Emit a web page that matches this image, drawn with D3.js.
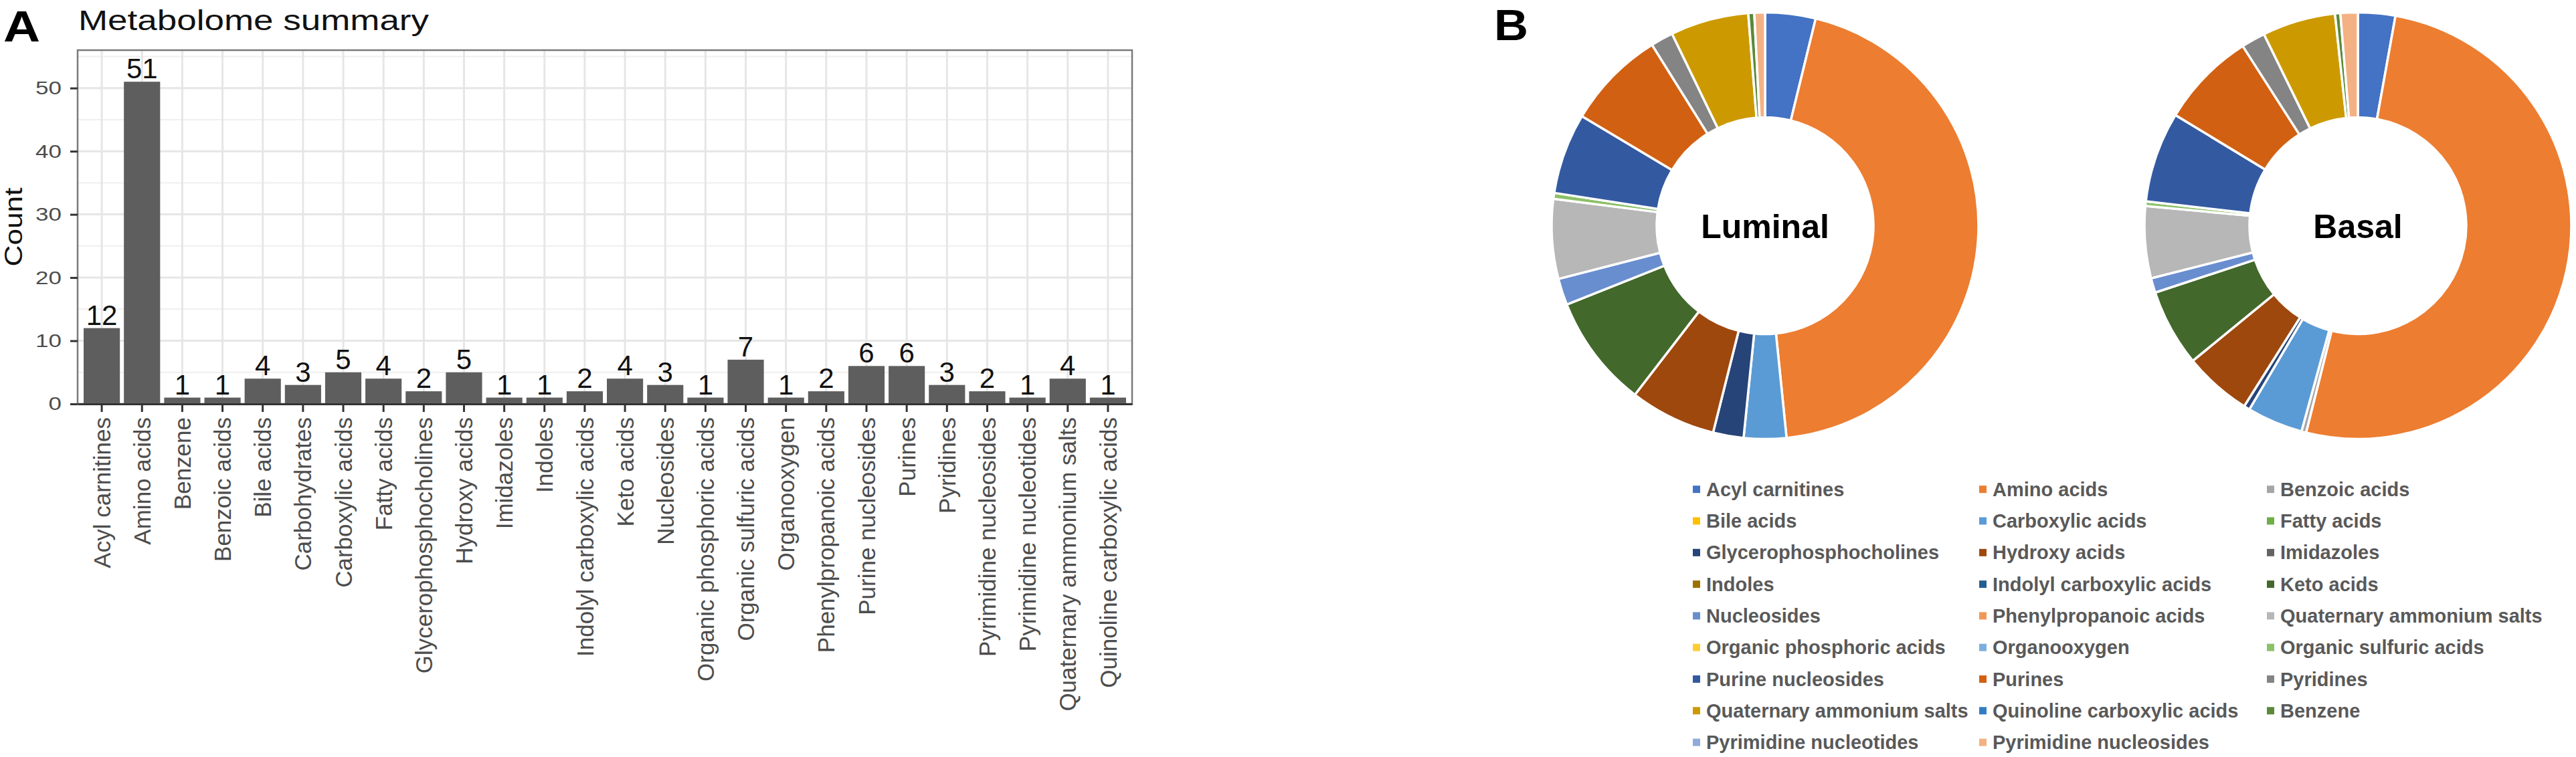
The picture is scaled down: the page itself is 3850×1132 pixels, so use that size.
<!DOCTYPE html>
<html>
<head>
<meta charset="utf-8">
<script src="https://cdn.jsdelivr.net/npm/d3@7"></script>
<style>
  body { margin: 0; background: #fff; }
  svg { display: block; }
  text { font-family: "Liberation Sans", Arial, sans-serif; }
</style>
</head>
<body>
<svg id="chart" width="3850" height="1132"></svg>
<script>
// ---------------- DATA ----------------
const barCategories = [
  "Acyl carnitines", "Amino acids", "Benzene", "Benzoic acids", "Bile acids",
  "Carbohydrates", "Carboxylic acids", "Fatty acids", "Glycerophosphocholines",
  "Hydroxy acids", "Imidazoles", "Indoles", "Indolyl carboxylic acids", "Keto acids",
  "Nucleosides", "Organic phosphoric acids", "Organic sulfuric acids", "Organooxygen",
  "Phenylpropanoic acids", "Purine nucleosides", "Purines", "Pyridines",
  "Pyrimidine nucleosides", "Pyrimidine nucleotides", "Quaternary ammonium salts",
  "Quinoline carboxylic acids"
];
const barCounts = [12, 51, 1, 1, 4, 3, 5, 4, 2, 5, 1, 1, 2, 4, 3, 1, 7, 1, 2, 6, 6, 3, 2, 1, 4, 1];
const yTicks = [0, 10, 20, 30, 40, 50];
const yMinorTicks = [5, 15, 25, 35, 45, 55];
const yMax = 56;

const donutCategories = [
  "Acyl carnitines", "Amino acids", "Benzoic acids",
  "Bile acids", "Carboxylic acids", "Fatty acids",
  "Glycerophosphocholines", "Hydroxy acids", "Imidazoles",
  "Indoles", "Indolyl carboxylic acids", "Keto acids",
  "Nucleosides", "Phenylpropanoic acids", "Quaternary ammonium salts",
  "Organic phosphoric acids", "Organooxygen", "Organic sulfuric acids",
  "Purine nucleosides", "Purines", "Pyridines",
  "Quaternary ammonium salts", "Quinoline carboxylic acids", "Benzene",
  "Pyrimidine nucleotides", "Pyrimidine nucleosides"
];
const donutColors = [
  "#4472C4", "#ED7D31", "#A5A5A5",
  "#FFC000", "#5B9BD5", "#70AD47",
  "#264478", "#9E480E", "#636363",
  "#997300", "#255E91", "#43682B",
  "#698ED0", "#F1975A", "#B7B7B7",
  "#FFCD33", "#7CAFDD", "#8CC168",
  "#335AA1", "#D26012", "#848484",
  "#CC9A00", "#327DC2", "#5A8A39",
  "#8FAADC", "#F4B183"
];
// approximate % shares read from the donuts (clockwise from 12 o'clock)
const luminalShare = [3.8, 44.4, 0, 0, 3.2, 0, 2.3, 6.5, 0, 0, 0, 8.5, 2.0, 0, 6.0, 0, 0, 0.45, 6.1, 7.5, 1.7, 5.9, 0, 0.45, 0, 0.8];
const basalShare   = [2.8, 50.7, 0.35, 0, 4.2, 0, 0.45, 5.1, 0, 0, 0, 5.8, 1.1, 0, 5.4, 0, 0, 0.35, 6.8, 7.2, 1.8, 5.5, 0, 0.4, 0, 1.3];
const donutTitles = ["Luminal", "Basal"];

// ---------------- SETUP ----------------
const svg = d3.select("#chart");

// ---------------- PANEL A ----------------
const pL = 116, pR = 1692, pT = 75, pB = 604;
const x = d3.scaleBand().domain(barCategories).range([pL, pR]).paddingInner(0.1).paddingOuter(0.15);
const y = d3.scaleLinear().domain([0, yMax]).range([pB, pT]);

const gA = svg.append("g");

// panel background & grid
gA.append("rect").attr("x", pL).attr("y", pT).attr("width", pR - pL).attr("height", pB - pT).attr("fill", "#fff");
gA.selectAll(".minor").data(yMinorTicks).join("line")
  .attr("x1", pL).attr("x2", pR).attr("y1", d => y(d)).attr("y2", d => y(d))
  .attr("stroke", "#efefef").attr("stroke-width", 2);
gA.selectAll(".major").data(yTicks).join("line")
  .attr("x1", pL).attr("x2", pR).attr("y1", d => y(d)).attr("y2", d => y(d))
  .attr("stroke", "#e6e6e6").attr("stroke-width", 3);
gA.selectAll(".vgrid").data(barCategories).join("line")
  .attr("x1", d => x(d) + x.bandwidth() / 2).attr("x2", d => x(d) + x.bandwidth() / 2)
  .attr("y1", pT).attr("y2", pB)
  .attr("stroke", "#e6e6e6").attr("stroke-width", 3);

// bars
gA.selectAll(".bar").data(barCounts).join("rect")
  .attr("x", (d, i) => x(barCategories[i]))
  .attr("width", x.bandwidth())
  .attr("y", d => y(d))
  .attr("height", d => y(0) - y(d))
  .attr("fill", "#5e5e5e");

// value labels
gA.selectAll(".val").data(barCounts).join("text")
  .attr("x", (d, i) => x(barCategories[i]) + x.bandwidth() / 2)
  .attr("y", d => y(d) - 5)
  .attr("text-anchor", "middle")
  .attr("font-size", 42)
  .attr("fill", "#111")
  .text(d => d);

// panel border
gA.append("rect").attr("x", pL).attr("y", pT).attr("width", pR - pL).attr("height", pB - pT)
  .attr("fill", "none").attr("stroke", "#7a7a7a").attr("stroke-width", 2.5);

// y axis
const yAxis = gA.append("g").attr("transform", `translate(${pL},0)`)
  .call(d3.axisLeft(y).tickValues(yTicks).tickSize(11).tickPadding(13).tickSizeOuter(0));
yAxis.select(".domain").remove();
yAxis.selectAll(".tick line").attr("stroke", "#333").attr("stroke-width", 3);
yAxis.selectAll(".tick text")
  .attr("font-size", 28)
  .attr("fill", "#4d4d4d")
  .attr("font-family", "Liberation Sans, Arial, sans-serif")
  .attr("x", -24 / 1.25)
  .attr("transform", "scale(1.25,1)");

// x axis
const xAxis = gA.append("g").attr("transform", `translate(0,${pB})`)
  .call(d3.axisBottom(x).tickSize(12).tickSizeOuter(0));
xAxis.select(".domain").attr("stroke", "#333").attr("stroke-width", 3);
xAxis.selectAll(".tick line").attr("stroke", "#333").attr("stroke-width", 3);
xAxis.selectAll(".tick text")
  .attr("font-size", 35)
  .attr("fill", "#4d4d4d")
  .attr("font-family", "Liberation Sans, Arial, sans-serif")
  .attr("transform", "rotate(-90)")
  .attr("text-anchor", "end")
  .attr("x", -20)
  .attr("y", 0)
  .attr("dy", "0.36em");

// title & axis title & panel letter
gA.append("text").attr("x", 117).attr("y", 45).attr("font-size", 43)
  .attr("textLength", 524).attr("lengthAdjust", "spacingAndGlyphs")
  .attr("fill", "#111").text("Metabolome summary");
gA.append("text").attr("transform", `translate(33,${(pT + pB) / 2}) rotate(-90)`)
  .attr("text-anchor", "middle").attr("font-size", 37)
  .attr("textLength", 118).attr("lengthAdjust", "spacingAndGlyphs")
  .attr("fill", "#111").text("Count");
svg.append("text").attr("x", 5).attr("y", 62).attr("font-size", 64).attr("font-weight", "bold")
  .attr("textLength", 55).attr("lengthAdjust", "spacingAndGlyphs")
  .attr("fill", "#000").text("A");

// ---------------- PANEL B ----------------
svg.append("text").attr("x", 2233).attr("y", 60).attr("font-size", 64).attr("font-weight", "bold")
  .attr("textLength", 51).attr("lengthAdjust", "spacingAndGlyphs")
  .attr("fill", "#000").text("B");

const donutCenters = [[2638, 337.5], [3524, 337.5]];
const outerR = 319, innerR = 162;
const pie = d3.pie().sort(null).value(d => d.v);
const arc = d3.arc().innerRadius(innerR).outerRadius(outerR);

[luminalShare, basalShare].forEach((shares, k) => {
  const data = shares.map((v, i) => ({ v, name: donutCategories[i], color: donutColors[i] }))
    .filter(d => d.v > 0);
  const g = svg.append("g").attr("transform", `translate(${donutCenters[k][0]},${donutCenters[k][1]})`);
  g.selectAll("path").data(pie(data)).join("path")
    .attr("d", arc)
    .attr("fill", d => d.data.color)
    .attr("stroke", "#fff")
    .attr("stroke-width", 3.5)
    .attr("stroke-linejoin", "miter");
  g.append("text").attr("text-anchor", "middle").attr("y", 18)
    .attr("font-size", 50).attr("font-weight", "bold").attr("fill", "#000")
    .text(donutTitles[k]);
});

// legend
const legCols = [2530, 2958, 3388];
const legRow0 = 731.7, legRowStep = 47.3;
const leg = svg.append("g");
const items = leg.selectAll("g").data(donutCategories).join("g")
  .attr("transform", (d, i) => `translate(${legCols[i % 3]},${legRow0 + Math.floor(i / 3) * legRowStep})`);
items.append("rect").attr("x", 0).attr("y", -5.5).attr("width", 11).attr("height", 11)
  .attr("fill", (d, i) => donutColors[i]);
items.append("text").attr("x", 20).attr("dy", "0.35em")
  .attr("font-size", 29).attr("font-weight", "bold").attr("fill", "#595959")
  .text(d => d);
</script>
</body>
</html>
